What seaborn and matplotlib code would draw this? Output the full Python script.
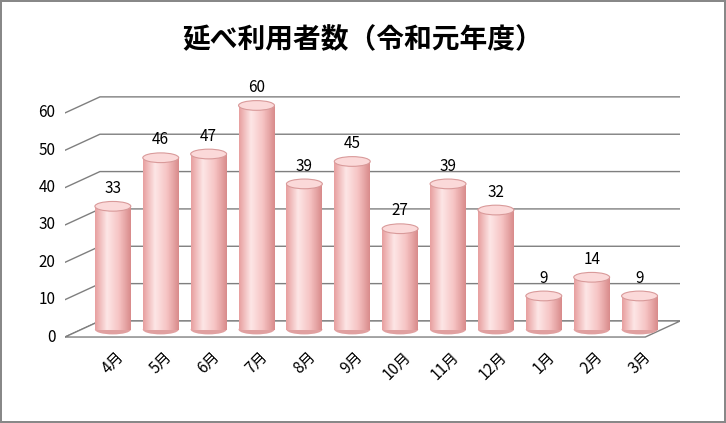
import matplotlib
matplotlib.use("Agg")
import matplotlib.pyplot as plt
import seaborn as sns
import numpy as np
import pandas as pd
from matplotlib.patches import Ellipse, Polygon, Rectangle
from matplotlib.colors import LinearSegmentedColormap

months = ["4月","5月","6月","7月","8月","9月","10月","11月","12月","1月","2月","3月"]
users = [33,46,47,60,39,45,27,39,32,9,14,9]
yticks = [0,10,20,30,40,50,60]
title = "延べ利用者数（令和元年度）"

plt.rcParams["font.family"] = "Noto Sans CJK JP"
fig = plt.figure(figsize=(7.26,4.23), dpi=100)
fig.patch.set_edgecolor("#888888"); fig.patch.set_linewidth(1.5)
ax = fig.add_axes([0.0895,0.19,0.8475,0.596])
x0, x1 = -1.0, 11.85
dx, dy = 0.73, 4.3
gc = "#7f7f7f"

df = pd.DataFrame({"m":months,"v":users})
sns.barplot(data=df, x="m", y="v", ax=ax, color="#f2b5b5", width=0.75, zorder=2)
bars = list(ax.containers[0])
ax.set_xlim(x0,x1); ax.set_ylim(-1.5,66); ax.axis("off")

ax.add_patch(Polygon([(x0,0),(x0+dx,dy),(x1,dy),(x1-dx,0)], closed=True, fc="white", ec=gc, lw=1, zorder=1))
for v in yticks:
    ax.plot([x0,x0+dx,x1],[v,v+dy,v+dy], color=gc, lw=1, zorder=0.5)
    ax.text(x0-0.2, v, str(v), ha="right", va="center", fontsize=11)

cmap = LinearSegmentedColormap.from_list("c", ["#e8a0a0","#fde6e6","#f6c4c4","#d98c8c"])
base = 2.0
eh = 2.6
for p, v, m in zip(bars, users, months):
    xl, w = p.get_x(), p.get_width()
    p.set_y(base); p.set_height(v); p.set_alpha(0)
    xc = xl + w/2
    ax.add_patch(Ellipse((xc, base), w, eh, fc="#e0a0a0", ec="none", zorder=2))
    im = ax.imshow(np.linspace(0,1,50).reshape(1,-1), cmap=cmap, aspect="auto",
                   extent=(xl, xl+w, base, base+v), zorder=3)
    im.set_clip_path(Rectangle((xl, base), w, v, transform=ax.transData))
    ax.add_patch(Ellipse((xc, base+v), w, eh, fc="#fbd9d9", ec="#d99a9a", lw=0.8, zorder=4))
    ax.text(xc, base+v+2.5, str(v), ha="center", va="bottom", fontsize=11, zorder=5)
    ax.text(xc+0.05, -3.0, m, ha="right", va="top", rotation=45, rotation_mode="anchor",
            fontsize=11, clip_on=False)
ax.set_xlim(x0,x1); ax.set_ylim(-1.5,66)
fig.text(0.5, 0.905, title, ha="center", va="center", fontsize=20, fontweight="bold")
fig.savefig("out.png", dpi=100)
